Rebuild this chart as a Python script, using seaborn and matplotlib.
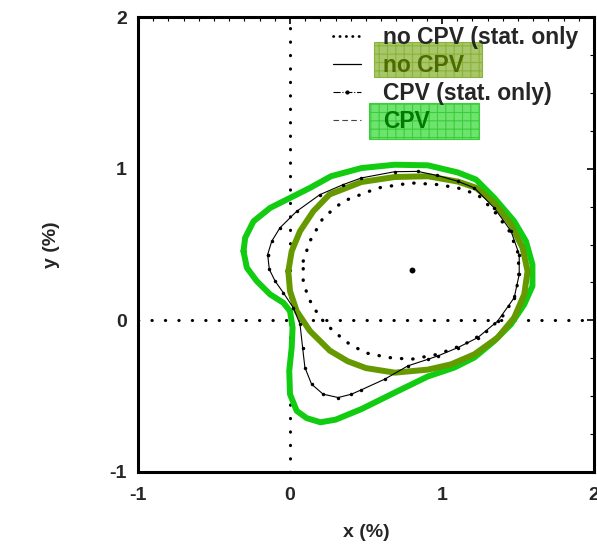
import numpy as np
import pandas as pd
import seaborn as sns
import matplotlib
matplotlib.use("Agg")
import matplotlib.pyplot as plt
from matplotlib.lines import Line2D
from matplotlib.patches import Rectangle

# ---- data ----
nocpv_stat_x = [0.087, 0.131, 0.218, 0.35, 0.579, 0.798, 0.972, 1.104, 1.235, 1.344, 1.443, 1.497,
                1.508, 1.486, 1.41, 1.30, 1.148, 0.972, 0.797, 0.645, 0.50, 0.393, 0.284, 0.197,
                0.12, 0.087, 0.087]
nocpv_stat_y = [0.39, 0.522, 0.676, 0.785, 0.873, 0.906, 0.895, 0.873, 0.829, 0.719, 0.588, 0.456,
                0.324, 0.171, 0.039, -0.07, -0.158, -0.224, -0.257, -0.245, -0.215, -0.158, -0.07, 0.018,
                0.149, 0.259, 0.39]

nocpv_x = [-0.011, 0.011, 0.066, 0.153, 0.26, 0.47, 0.689, 0.907, 1.104, 1.224, 1.344, 1.454, 1.53,
           1.563, 1.541, 1.475, 1.366, 1.213, 1.06, 0.907, 0.69, 0.50, 0.38, 0.262, 0.131, 0.044,
           0.0, -0.011]
nocpv_y = [0.324, 0.456, 0.588, 0.719, 0.83, 0.912, 0.945, 0.95, 0.915, 0.874, 0.774, 0.632, 0.478,
           0.324, 0.171, 0.018, -0.114, -0.224, -0.29, -0.325, -0.345, -0.315, -0.27, -0.20, -0.07, 0.061,
           0.193, 0.324]

cpv_stat_x = [-0.147, -0.12, -0.066, 0.044, 0.197, 0.35, 0.47, 0.689, 0.84, 0.97, 1.104, 1.213, 1.344,
              1.454, 1.508, 1.508, 1.475, 1.366, 1.235, 1.104, 0.972, 0.907, 0.776, 0.623, 0.47, 0.404,
              0.317, 0.218, 0.142, 0.098, 0.083, 0.066, 0.022, -0.044, -0.098, -0.136, -0.147]
cpv_stat_y = [0.434, 0.522, 0.61, 0.719, 0.829, 0.895, 0.939, 0.98, 0.982, 0.955, 0.917, 0.873, 0.741,
              0.588, 0.434, 0.303, 0.149, -0.005, -0.114, -0.18, -0.235, -0.257, -0.30, -0.388, -0.458,
              -0.487, -0.509, -0.487, -0.421, -0.311, -0.18, -0.026, 0.083, 0.182, 0.259, 0.336, 0.434]

cpv_x = [-0.306, -0.295, -0.24, -0.131, 0.0, 0.131, 0.27, 0.47, 0.689, 0.907, 1.104, 1.224, 1.344,
         1.475, 1.552, 1.595, 1.595, 1.541, 1.454, 1.344, 1.213, 1.082, 0.907, 0.69, 0.47, 0.30, 0.2,
         0.11, 0.044, 0.0, -0.005, 0.011, 0.017, 0.0, -0.044, -0.131, -0.219, -0.284, -0.306]
cpv_y = [0.456, 0.544, 0.653, 0.741, 0.807, 0.873, 0.95, 1.004, 1.026, 1.022, 0.975, 0.928, 0.807,
         0.653, 0.522, 0.368, 0.226, 0.105, -0.026, -0.136, -0.245, -0.311, -0.37, -0.476, -0.585,
         -0.655, -0.672, -0.645, -0.597, -0.487, -0.333, -0.18, -0.048, 0.061, 0.116, 0.171, 0.259,
         0.347, 0.456]

center_x = [0.8]
center_y = [0.33]

labels = ["no CPV (stat. only", "no CPV", "CPV (stat. only)", "CPV"]
x_ticks = [-1, 0, 1, 2]
y_ticks = [-1, 0, 1, 2]

OLIVE = "#669900"
GREEN = "#11cc11"

sns.set_style("white")
plt.rcParams["font.family"] = ["Liberation Sans", "DejaVu Sans"]
plt.rcParams["font.weight"] = "bold"
plt.rcParams["hatch.linewidth"] = 0.8

fig = plt.figure(figsize=(5.97, 5.49), dpi=100)
ax = fig.add_axes([138 / 597, 1 - 472 / 549, 456 / 597, 455 / 549])


def curve(xs, ys):
    return pd.DataFrame({"x": xs, "y": ys, "o": np.arange(len(xs))})


ax.axhline(0, color="black", lw=2.2, linestyle=(0, (0.1, 4.3)), dash_capstyle="round", zorder=1)
ax.axvline(0, color="black", lw=2.2, linestyle=(0, (0.1, 4.3)), dash_capstyle="round", zorder=1)

sns.lineplot(data=curve(cpv_x, cpv_y), x="x", y="y", sort=False, estimator=None,
             color=GREEN, lw=4.3, ax=ax, zorder=3)
sns.lineplot(data=curve(nocpv_x, nocpv_y), x="x", y="y", sort=False, estimator=None,
             color=OLIVE, lw=4.3, ax=ax, zorder=4)
sns.lineplot(data=curve(cpv_stat_x, cpv_stat_y), x="x", y="y", sort=False, estimator=None,
             color="black", lw=0.8, marker="o", markersize=2.5, markeredgewidth=0, ax=ax, zorder=5)
sns.lineplot(data=curve(nocpv_stat_x, nocpv_stat_y), x="x", y="y", sort=False, estimator=None,
             color="black", lw=2.4, linestyle=(0, (0.1, 3.3)), dash_capstyle="round", ax=ax, zorder=6)
sns.scatterplot(x=center_x, y=center_y, color="black", s=18, marker="o", linewidth=0, ax=ax, zorder=7)

ax.set_xlim(-1, 2)
ax.set_ylim(-1, 2)
ax.set_xticks(x_ticks)
ax.set_yticks(y_ticks)
ax.set_xticklabels([str(t) for t in x_ticks])
ax.set_yticklabels([str(t) for t in y_ticks])
ax.set_xticks(np.arange(-1, 2.001, 0.1), minor=True)
ax.set_yticks(np.arange(-1, 2.001, 0.25), minor=True)
ax.tick_params(which="both", direction="in", top=True, right=True, color="black")
ax.tick_params(which="major", length=5, width=1.2, labelsize=14)
ax.tick_params(which="minor", length=3, width=0.8)
ax.tick_params(axis="x", which="major", pad=11)
ax.tick_params(axis="y", which="major", pad=8)
for sp in ax.spines.values():
    sp.set_visible(True)
    sp.set_color("black")
    sp.set_linewidth(2.2)
ax.set_xlabel("x (%)", fontsize=14, fontweight="bold", labelpad=14)
ax.set_ylabel("y (%)", fontsize=14, fontweight="bold", labelpad=36)
ax.set_facecolor("white")


def fig_rect(x0, y0, x1, y1, fc, hc):
    r = Rectangle((x0 / 597, 1 - y1 / 549), (x1 - x0) / 597, (y1 - y0) / 549,
                  transform=fig.transFigure, facecolor=fc, edgecolor=hc, hatch="++",
                  linewidth=0.8, zorder=8, clip_on=False)
    fig.add_artist(r)


fig_rect(374, 42, 482, 77, "#a8c66a", "#8ab33a")
fig_rect(369, 103, 479, 139, "#6ee46e", "#3ccc3c")

handles = [
    Line2D([], [], color="black", lw=2.0, linestyle=(0, (0.1, 2.2)), dash_capstyle="round"),
    Line2D([], [], color="black", lw=0.9),
    Line2D([], [], color="black", lw=0.8, linestyle="-.", marker="o", markersize=2, markevery=[1]),
    Line2D([], [], color="#444444", lw=0.8, linestyle=(0, (5, 3))),
]
leg = fig.legend(handles, labels, loc="upper left", bbox_to_anchor=(333 / 597, 1 - 26 / 549),
                 frameon=False, handlelength=1.22, handletextpad=0.96,
                 labelspacing=0.22, borderpad=0, borderaxespad=0,
                 prop={"weight": "bold", "size": 16.5})
leg.set_zorder(9)
txts = leg.get_texts()
txts[1].set_color("#4d6b00")
txts[3].set_color("#007a00")

fig.savefig("out.png", dpi=100)
